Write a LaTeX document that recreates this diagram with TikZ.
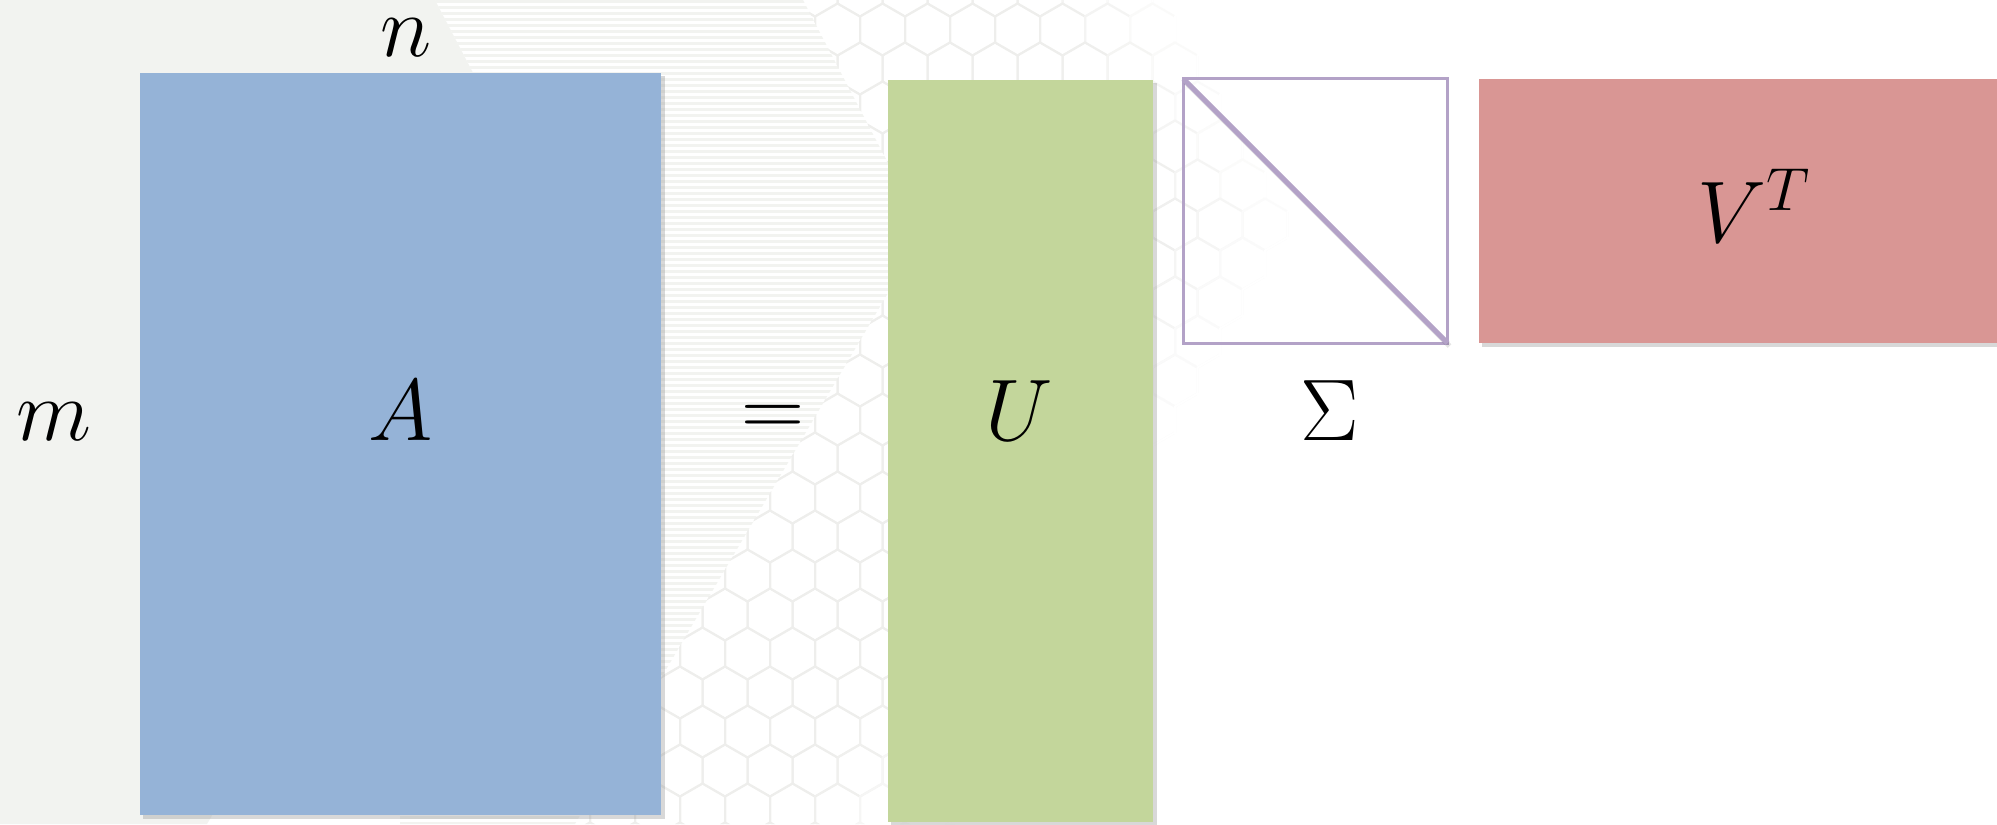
\documentclass[tikz,border=0pt]{standalone}
\usepackage{tikz}
\usetikzlibrary{shadows, positioning}
\usepackage{xcolor}
\definecolor{matblue}{RGB}{149, 179, 215}
\definecolor{matgreen}{RGB}{195, 214, 155}
\definecolor{matred}{RGB}{217, 150, 148}
\definecolor{matpurple}{RGB}{179, 162, 199}
\definecolor{bggray}{RGB}{242, 243, 240}
\definecolor{hexgray}{RGB}{238, 238, 236}

\begin{document}
\begin{tikzpicture}[
  x=0.01cm, y=-0.01cm,
  mbox/.style={rectangle, fill=#1, inner sep=0pt, outer sep=0pt,
               drop shadow={shadow xshift=0.035cm, shadow yshift=-0.035cm, opacity=0.3}},
  sbox/.style={rectangle, draw=matpurple, line width=0.03cm, inner sep=0pt, outer sep=0pt,
               minimum size=2.64cm},
  sym/.style={anchor=base, inner sep=0pt, font=\fontsize{25}{30}\selectfont},
  hexline/.style={draw=hexgray!#1!white, line width=0.02cm}
]
\useasboundingbox (0,0) rectangle (1997,824);
\fill[white] (0,0) rectangle (1997,824);

\fill[bggray] (0,0) -- (435,0) -- (556,232) -- (207,824) -- (0,824) -- cycle;
\begin{scope}
  \clip (435,0) -- (803,0) -- (924,232) -- (575,824) -- (207,824) -- (556,232) -- cycle;
  \foreach \k in {0,...,137}
    \draw[bggray, line width=0.03cm] (400,6*\k+1.5) -- (960,6*\k+1.5);
\end{scope}
\begin{scope}
  \clip (803,0) -- (1200,0) -- (1321,232) -- (972,824) -- (575,824) -- (924,232) -- cycle;
  \foreach \r in {0,...,22}
    \foreach \c in {0,...,17} {
      \pgfmathsetmacro{\hx}{545+45*\c+22.5*mod(\r,2)}
      \pgfmathsetmacro{\hy}{-9.5+39*\r}
      \pgfmathsetmacro{\xr}{\hy<232 ? 1200+0.52*\hy : 1321-0.59*(\hy-232)}
      \pgfmathtruncatemacro{\hf}{max(0,min(100,(\xr-\hx-20)/1.4))}
      \draw[hexline=\hf] (\hx+22.5,\hy-13) -- (\hx,\hy-26) -- (\hx-22.5,\hy-13)
        -- (\hx-22.5,\hy+13) -- (\hx,\hy+26) -- (\hx+22.5,\hy+13) -- cycle;
    }
\end{scope}

\node[mbox=matblue, minimum width=5.21cm, minimum height=7.42cm] (A) at (400.5,444) {};
\node[mbox=matgreen, minimum width=2.65cm, minimum height=7.42cm] (U) at (1020.5,451) {};
\node[sbox] (S) at (1315.5,211) {};
\draw[black, opacity=0.1, line width=0.05cm] ([shift={(2,3)}]S.north west) -- ([shift={(2,3)}]S.south east);
\draw[matpurple, line width=0.05cm] (S.north west) -- (S.south east);
\node[mbox=matred, minimum width=5.21cm, minimum height=2.64cm] (V) at (1739.5,211) {};

\node[sym] (nlab) at (406,57)   {$n$};
\node[sym] (mlab) at (54,440)   {$m$};
\node[sym] (Alab) at (401,440)  {$A$};
\node[sym] (eq)   at (773,436)  {$=$};
\node[sym] (Ulab) at (1019,440) {$U$};
\node[sym] (Slab) at (1330,440) {$\Sigma$};
\node[sym] (Vlab) at (1754,242) {$V^T$};
\end{tikzpicture}
\end{document}
